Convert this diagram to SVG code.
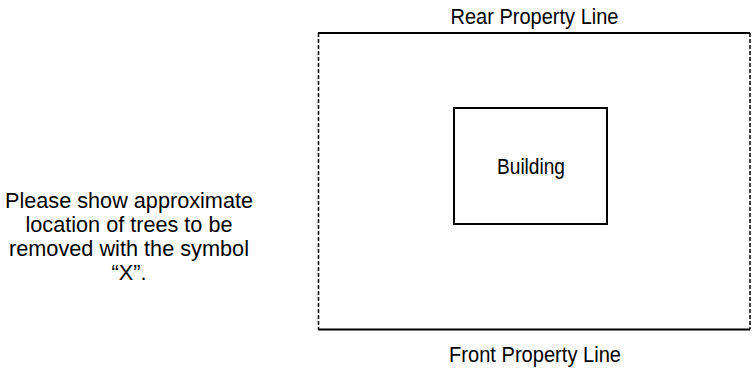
<svg xmlns="http://www.w3.org/2000/svg" width="756" height="371" viewBox="0 0 756 371">
<style>
text{font-family:"Liberation Sans Narrow","Arial Narrow","Liberation Sans",Arial,sans-serif;font-stretch:condensed;font-size:21.5px;fill:#000;text-anchor:middle}
.solid{stroke:#000;stroke-width:2;fill:none}
.dash{stroke:#000;stroke-width:1.5;stroke-dasharray:4 2;fill:none}
</style>
<rect width="756" height="371" fill="#fff"/>
<g id="property">
<line class="solid" x1="318" y1="33" x2="750" y2="33"/>
<line class="solid" x1="318" y1="329.5" x2="750" y2="329.5"/>
<line class="dash" x1="318.5" y1="33" x2="318.5" y2="329.5"/>
<line class="dash" x1="750" y1="33" x2="750" y2="329.5"/>
</g>
<g id="building">
<rect class="solid" x="454" y="108" width="153" height="116"/>
<text x="531" y="174" textLength="68" lengthAdjust="spacingAndGlyphs">Building</text>
</g>
<g id="labels">
<text x="534.5" y="24" textLength="168" lengthAdjust="spacingAndGlyphs">Rear Property Line</text>
<text x="535" y="362" textLength="172" lengthAdjust="spacingAndGlyphs">Front Property Line</text>
<text x="129" y="208" textLength="248" lengthAdjust="spacingAndGlyphs">Please show approximate</text>
<text x="129" y="232" textLength="207" lengthAdjust="spacingAndGlyphs">location of trees to be</text>
<text x="129" y="256" textLength="240" lengthAdjust="spacingAndGlyphs">removed with the symbol</text>
<text x="129" y="280" textLength="35" lengthAdjust="spacingAndGlyphs">“X”.</text>
</g>
</svg>
